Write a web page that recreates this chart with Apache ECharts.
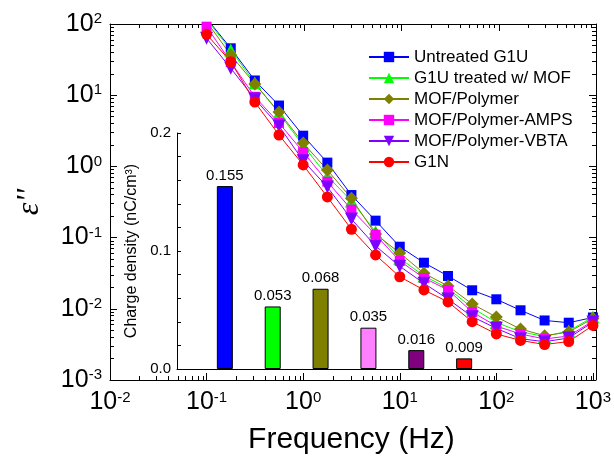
<!DOCTYPE html>
<html>
<head>
<meta charset="utf-8">
<script src="https://cdn.jsdelivr.net/npm/echarts@6/dist/echarts.min.js"></script>
<style>
  html, body { margin: 0; padding: 0; background: #fff; }
  #chart { width: 614px; height: 460px; }
</style>
</head>
<body>
<div id="chart"></div>
<script>
// frequency points (Hz), 4 per decade
var freqs = [0.1, 0.178, 0.316, 0.562, 1, 1.78, 3.16, 5.62, 10, 17.8, 31.6, 56.2, 100, 178, 316, 562, 1000];

// dielectric loss e'' per sample
var untreatedG1U = [120, 45.6, 16.1, 7.16, 2.70, 1.13, 0.396, 0.173, 0.0745, 0.0444, 0.0289, 0.0182, 0.0136, 0.00953, 0.00686, 0.00638, 0.00755];
var treatedMOF = [116, 43.2, 14.8, 5.57, 1.97, 0.733, 0.327, 0.121, 0.0512, 0.0289, 0.0194, 0.0103, 0.00643, 0.00476, 0.00408, 0.00488, 0.00767];
var mofPolymer = [108, 36.7, 14.4, 5.8, 2.13, 0.89, 0.356, 0.112, 0.0608, 0.0315, 0.0209, 0.0117, 0.00767, 0.0052, 0.00419, 0.00472, 0.0073];
var mofAMPS = [91.7, 29.2, 9.5, 4.07, 1.59, 0.61, 0.248, 0.11, 0.0469, 0.0271, 0.0184, 0.0090, 0.00573, 0.00442, 0.00377, 0.00415, 0.00675];
var mofVBTA = [63, 23.9, 8.85, 3.69, 1.20, 0.514, 0.182, 0.0762, 0.0395, 0.0228, 0.0137, 0.00775, 0.00532, 0.0038, 0.00345, 0.00389, 0.00653];
var g1n = [71.6, 29.5, 8.0, 2.76, 1.05, 0.372, 0.131, 0.057, 0.0282, 0.0184, 0.0125, 0.00659, 0.00443, 0.0036, 0.00315, 0.00347, 0.00583];

var seriesNames = ["Untreated G1U", "G1U treated w/ MOF", "MOF/Polymer", "MOF/Polymer-AMPS", "MOF/Polymer-VBTA", "G1N"];

// inset: charge density (nC/cm3)
var chargeDensity = [0.155, 0.053, 0.068, 0.035, 0.016, 0.009];
var barColors = ["#0000ff", "#00ff00", "#808000", "#ff80ff", "#800080", "#ff0000"];

// tick values
var xRange = [0.01, 1000];
var yRange = [0.001, 100];
var insetYTicks = [0, 0.1, 0.2];

function minorTicks(lo, hi) {
  var out = [];
  for (var d = lo; d < hi; d++) {
    for (var k = 2; k <= 9; k++) {
      out.push(k * Math.pow(10, d));
    }
  }
  return out;
}
var xMinor = minorTicks(-2, 3);
var yMinor = minorTicks(-3, 2);

var FONT = "Liberation Sans, Arial, sans-serif";

function powLabel(v) {
  var e = Math.round(Math.log10(v));
  return "{b|10}{s|" + e + "}";
}
var powRich = {
  b: { fontSize: 25, fontFamily: FONT, color: "#000" },
  s: { fontSize: 15, fontFamily: FONT, color: "#000", verticalAlign: "top", lineHeight: 15 }
};

function logAxis(grid, pos, range, opts) {
  var ax = {
    type: "log",
    logBase: 10,
    gridIndex: grid,
    position: pos,
    min: range[0],
    max: range[1],
    interval: 1,
    axisLine: { show: opts.line, lineStyle: { color: "#000", width: 1 } },
    axisTick: { show: true, inside: true, length: opts.tickLen, lineStyle: { color: "#000", width: 1 } },
    axisLabel: { show: false },
    splitLine: { show: false }
  };
  if (opts.custom) ax.axisTick.customValues = opts.custom;
  return ax;
}

var xMain = logAxis(0, "bottom", xRange, { line: true, tickLen: 7 });
xMain.axisLabel = { show: true, margin: 10, formatter: powLabel, rich: powRich };
xMain.name = "Frequency (Hz)";
xMain.nameLocation = "middle";
xMain.nameGap = 45;
xMain.nameTextStyle = { fontSize: 30, fontFamily: FONT, color: "#000" };

var yMain = logAxis(0, "left", yRange, { line: true, tickLen: 7 });
yMain.axisLabel = { show: true, margin: 8, formatter: powLabel, rich: powRich };
yMain.name = "\u03b5''";
yMain.nameLocation = "middle";
yMain.nameRotate = 90;
yMain.nameGap = 64;
yMain.nameTextStyle = { fontSize: 32, fontFamily: "Liberation Serif, serif", fontStyle: "italic", color: "#000" };

var symbols = [
  { symbol: "rect", size: 10, rotate: 0, color: "#0000ff" },
  { symbol: "triangle", size: 13, rotate: 0, color: "#00ff00" },
  { symbol: "diamond", size: 13, rotate: 0, color: "#808000" },
  { symbol: "rect", size: 10, rotate: 0, color: "#ff00ff" },
  { symbol: "triangle", size: 13, rotate: 180, color: "#8000ff" },
  { symbol: "circle", size: 11, rotate: 0, color: "#ff0000" }
];
var allValues = [untreatedG1U, treatedMOF, mofPolymer, mofAMPS, mofVBTA, g1n];

var series = [];
for (var i = 0; i < seriesNames.length; i++) {
  var vals = allValues[i];
  var sty = symbols[i];
  series.push({
    name: seriesNames[i],
    type: "line",
    xAxisIndex: 0,
    yAxisIndex: 0,
    data: freqs.map(function (f, j) { return [f, vals[j]]; }),
    symbol: sty.symbol,
    symbolSize: sty.size,
    symbolRotate: sty.rotate,
    showAllSymbol: true,
    itemStyle: { color: sty.color },
    lineStyle: { color: sty.color, width: 1 },
    emphasis: { disabled: true },
    animation: false
  });
}

// inset bars, placed at 1..6 on a 0..7 axis
series.push({
  type: "bar",
  xAxisIndex: 4,
  yAxisIndex: 4,
  barWidth: 16,
  data: chargeDensity.map(function (v, j) {
    return { value: [j + 1, v], itemStyle: { color: barColors[j] } };
  }),
  itemStyle: { borderColor: "#000", borderWidth: 1 },
  label: {
    show: true,
    position: "top",
    distance: 3,
    fontSize: 15,
    fontFamily: FONT,
    color: "#000",
    formatter: function (p) { return p.value[1].toFixed(3); }
  },
  animation: false
});

var option = {
  backgroundColor: "#fff",
  grid: [
    { left: 110, top: 24, right: 18, bottom: 80 },
    { left: 110, top: 24, right: 18, bottom: 80 },
    { left: 110, top: 24, right: 18, bottom: 80 },
    { left: 110, top: 24, right: 18, bottom: 80 },
    { left: 177, top: 133, right: 102, bottom: 91 }
  ],
  xAxis: [
    xMain,
    logAxis(1, "top", xRange, { line: true, tickLen: 7 }),
    logAxis(2, "bottom", xRange, { line: false, tickLen: 4, custom: xMinor }),
    logAxis(3, "top", xRange, { line: false, tickLen: 4, custom: xMinor }),
    {
      type: "value",
      gridIndex: 4,
      min: 0,
      max: 7,
      axisLine: { show: true, onZero: false, lineStyle: { color: "#000", width: 1 } },
      axisTick: { show: false },
      axisLabel: { show: false },
      splitLine: { show: false }
    }
  ],
  yAxis: [
    yMain,
    logAxis(1, "right", yRange, { line: true, tickLen: 7 }),
    logAxis(2, "left", yRange, { line: false, tickLen: 4, custom: yMinor }),
    logAxis(3, "right", yRange, { line: false, tickLen: 4, custom: yMinor }),
    {
      type: "value",
      gridIndex: 4,
      min: 0,
      max: 0.2,
      interval: 0.02,
      name: "Charge density (nC/cm\u00b3)",
      nameLocation: "middle",
      nameRotate: 90,
      nameGap: 24,
      nameTextStyle: { fontSize: 16, fontFamily: FONT, color: "#000" },
      axisLine: { show: true, lineStyle: { color: "#000", width: 1 } },
      axisTick: { show: true, inside: true, length: 4, lineStyle: { color: "#000" } },
      axisLabel: {
        fontSize: 15,
        fontFamily: FONT,
        color: "#000",
        margin: 6,
        formatter: function (v) {
          for (var k = 0; k < insetYTicks.length; k++) {
            if (Math.abs(v - insetYTicks[k]) < 1e-9) return v.toFixed(1);
          }
          return "";
        }
      },
      splitLine: { show: false }
    }
  ],
  legend: {
    data: seriesNames,
    orient: "vertical",
    left: 363,
    top: 43,
    itemWidth: 40,
    itemHeight: 13,
    itemGap: 3,
    textStyle: { fontSize: 17, fontFamily: FONT, color: "#000", lineHeight: 18 },
    selectedMode: false
  },
  series: series
};

var chart = echarts.init(document.getElementById("chart"));
chart.setOption(option);
</script>
</body>
</html>
